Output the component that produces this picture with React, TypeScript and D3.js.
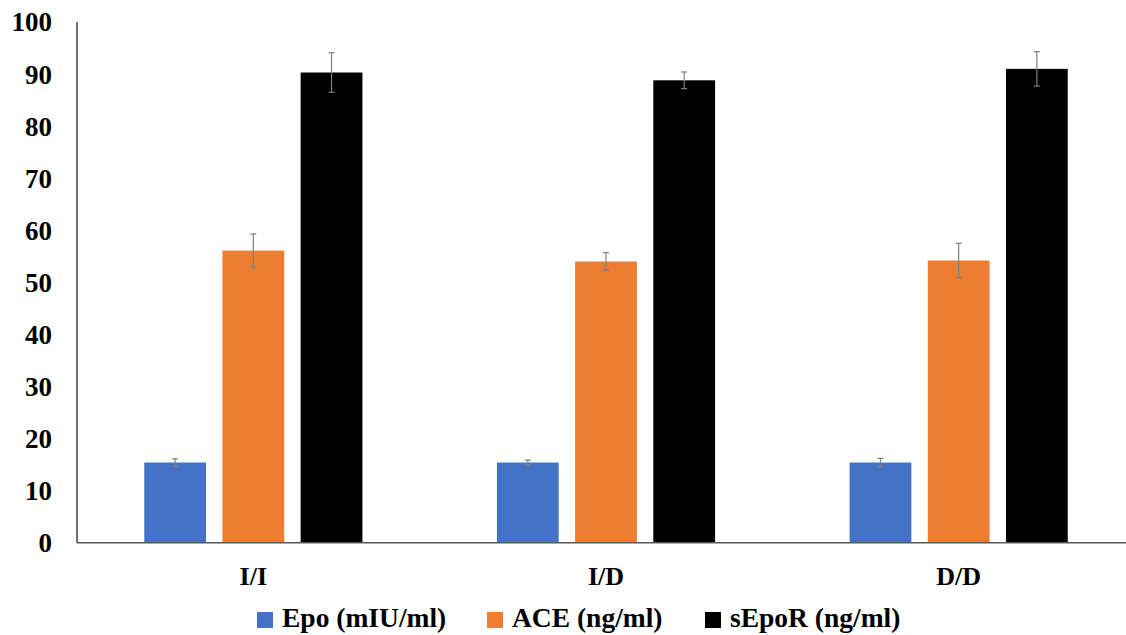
import React from "react";
import * as d3 from "d3";

const categories = ["I/I", "I/D", "D/D"];
const seriesNames = ["Epo (mIU/ml)", "ACE (ng/ml)", "sEpoR (ng/ml)"];
const seriesColors = ["#4472C4", "#ED7D31", "#000000"];
const epoValues = [15.4, 15.4, 15.4];
const epoErrors = [0.7, 0.45, 0.8];
const aceValues = [56.1, 54.0, 54.2];
const aceErrors = [3.2, 1.7, 3.3];
const sepoRValues = [90.3, 88.8, 91.0];
const sepoRErrors = [3.8, 1.6, 3.3];
const yTicks = [0, 10, 20, 30, 40, 50, 60, 70, 80, 90, 100];

const seriesValues = [epoValues, aceValues, sepoRValues];
const seriesErrors = [epoErrors, aceErrors, sepoRErrors];

const W = 1126;
const H = 635;
const textStyle: React.CSSProperties = {
  fontFamily: '"Liberation Serif", "Times New Roman", Times, "DejaVu Serif", serif',
  fontWeight: 700,
};

export default function App() {
  const x0 = d3.scaleBand<string>().domain(categories).range([77, 1135]).padding(0);
  const x1 = d3
    .scaleBand<string>()
    .domain(seriesNames)
    .range([0, x0.bandwidth()])
    .paddingInner(0.21)
    .paddingOuter(0.86);
  const y = d3.scaleLinear().domain([0, 100]).range([542.7, 22]);

  const legendItems = [
    { sq: 257, tx: 282 },
    { sq: 487, tx: 512 },
    { sq: 705, tx: 730 },
  ];

  return (
    <svg
      width={W}
      height={H}
      style={{ position: "absolute", left: 0, top: 0, background: "#fff" }}
    >
      <rect x={0} y={0} width={W} height={H} fill="#fff" />
      {categories.map((c, ci) => (
        <g key={c} transform={`translate(${x0(c)},0)`}>
          {seriesNames.map((s, si) => {
            const v = seriesValues[si][ci];
            const e = seriesErrors[si][ci];
            const bx = x1(s)!;
            const bw = x1.bandwidth();
            const cx = bx + bw / 2;
            return (
              <g key={s}>
                <rect x={bx} y={y(v)} width={bw} height={y(0) - y(v)} fill={seriesColors[si]} />
                <line x1={cx} x2={cx} y1={y(v + e)} y2={y(v - e)} stroke="#7f7f7f" strokeWidth={1.2} />
                <line x1={cx - 3} x2={cx + 3} y1={y(v + e)} y2={y(v + e)} stroke="#7f7f7f" strokeWidth={1.2} />
                <line x1={cx - 3} x2={cx + 3} y1={y(v - e)} y2={y(v - e)} stroke="#7f7f7f" strokeWidth={1.2} />
              </g>
            );
          })}
        </g>
      ))}
      <line x1={77} x2={77} y1={y(100)} y2={y(0)} stroke="#404040" strokeWidth={1.5} />
      <line x1={77} x2={W} y1={y(0)} y2={y(0)} stroke="#595959" strokeWidth={1.5} />
      {yTicks.map((t) => (
        <text
          key={t}
          x={52}
          y={y(t)}
          dy="0.35em"
          textAnchor="end"
          fontSize={27}
          fill="#000"
          style={textStyle}
        >
          {t}
        </text>
      ))}
      {categories.map((c) => (
        <text
          key={c}
          x={x0(c)! + x0.bandwidth() / 2}
          y={585}
          textAnchor="middle"
          fontSize={26}
          fill="#000"
          style={textStyle}
        >
          {c}
        </text>
      ))}
      {seriesNames.map((s, i) => (
        <g key={s}>
          <rect x={legendItems[i].sq} y={612} width={16} height={16} fill={seriesColors[i]} />
          <text x={legendItems[i].tx} y={627} fontSize={27.5} fill="#000" style={textStyle}>
            {s}
          </text>
        </g>
      ))}
    </svg>
  );
}
